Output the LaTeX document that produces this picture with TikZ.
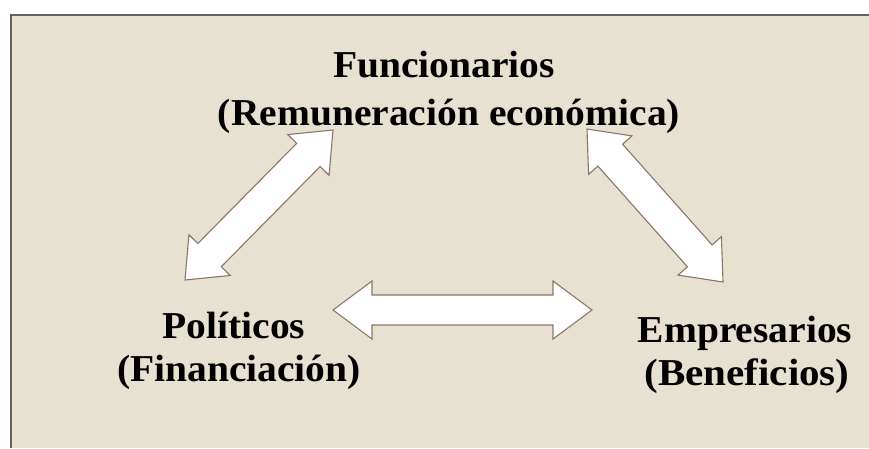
\documentclass[tikz,border=0pt]{standalone}
\usepackage{fontspec}
\setmainfont[FakeStretch=1.04]{Liberation Serif}
\usetikzlibrary{calc}
\definecolor{panel}{RGB}{231,225,209}
\definecolor{frameline}{RGB}{105,100,95}
\definecolor{arrowline}{RGB}{140,118,105}
\tikzset{
  txt/.style={font=\bfseries\fontsize{38}{40}\selectfont, anchor=base, inner sep=0pt, text=black},
  blockarrow/.style={draw=arrowline, line width=1.1pt, fill=white, line join=miter}
}
% #1 tip A, #2 tip B, #3 head length, #4 shaft half-width, #5 head half-width
\newcommand\dblblock[5]{%
  \draw[blockarrow] (#1)
    -- ($(#1)!#3!(#2)!#5!90:(#2)$)
    -- ($(#1)!#3!(#2)!#4!90:(#2)$)
    -- ($(#2)!#3!(#1)!#4!-90:(#1)$)
    -- ($(#2)!#3!(#1)!#5!-90:(#1)$)
    -- (#2)
    -- ($(#2)!#3!(#1)!#5!90:(#1)$)
    -- ($(#2)!#3!(#1)!#4!90:(#1)$)
    -- ($(#1)!#3!(#2)!#4!-90:(#2)$)
    -- ($(#1)!#3!(#2)!#5!-90:(#2)$)
    -- cycle;}
\begin{document}
\begin{tikzpicture}[x=1pt, y=-1pt]
  \useasboundingbox (0,0) rectangle (869,448);
  \fill[white] (0,0) rectangle (869,448);
  \fill[panel] (11,15) rectangle (869,448);
  \draw[frameline, line width=1.8pt] (11,448) -- (11,15) -- (869,15);

  % arrow tips
  \coordinate (lA) at (185,280);
  \coordinate (lB) at (333,130);
  \coordinate (rA) at (587,129);
  \coordinate (rB) at (723,282);
  \coordinate (hA) at (333,310);
  \coordinate (hB) at (592,310);

  \dblblock{lA}{lB}{35pt}{16.5pt}{29pt}
  \dblblock{rA}{rB}{35pt}{16.5pt}{29pt}
  \dblblock{hA}{hB}{39pt}{15pt}{29pt}

  % labels
  \node[txt] (fun1) at (444,77) {Funcionarios};
  \node[txt] (fun2) at (449,125) {(Remuneración económica)};
  \node[txt] (pol1) at (234,338) {Políticos};
  \node[txt] (pol2) at (239,381) {(Financiación)};
  \node[txt] (emp1) at (745,342) {Empresarios};
  \node[txt] (emp2) at (747,385) {\addfontfeature{FakeStretch=1.08}(Beneficios)};
\end{tikzpicture}
\end{document}
